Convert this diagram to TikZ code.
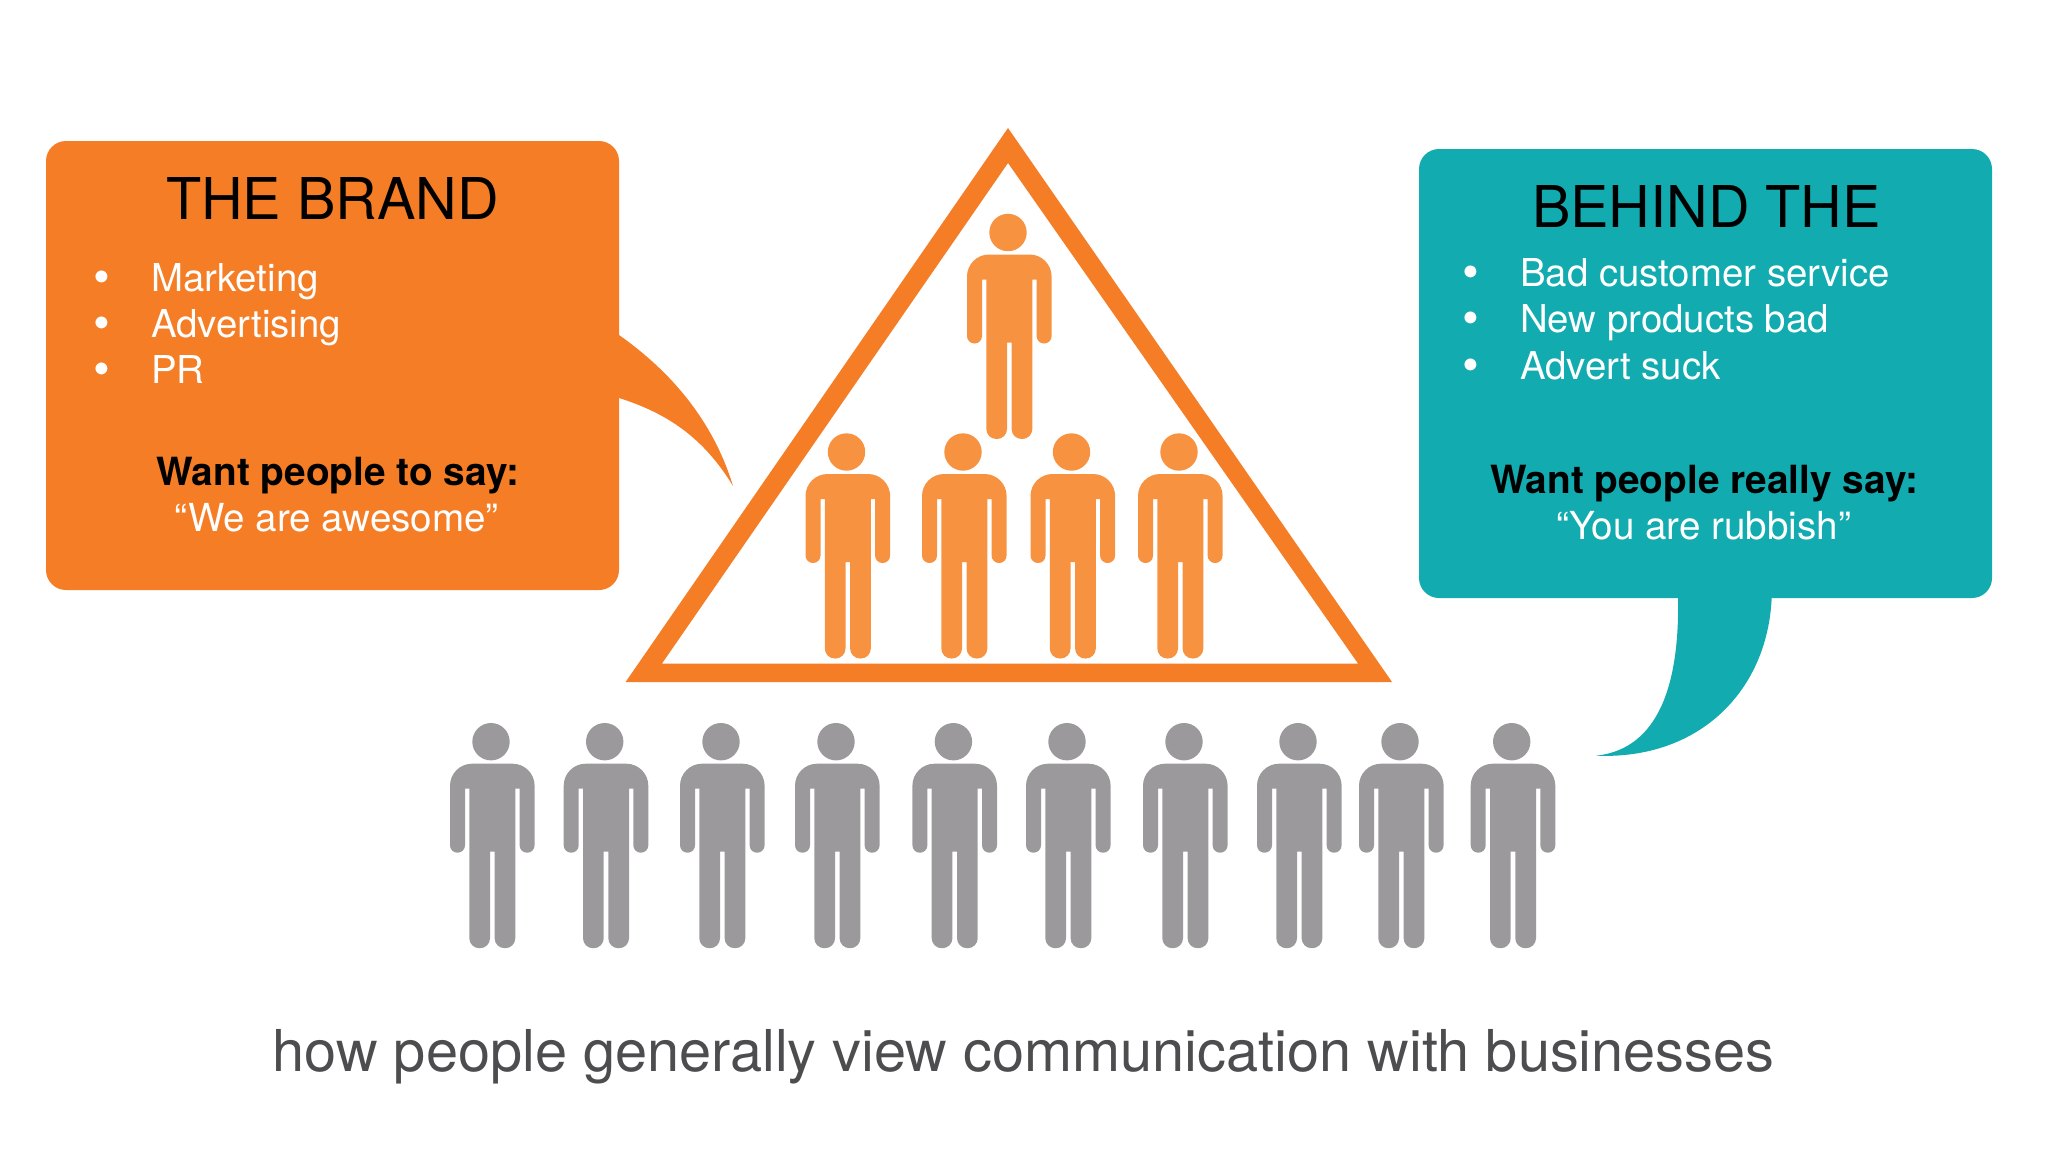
\documentclass[tikz,border=0pt]{standalone}
\usepackage{fontspec}
\setmainfont{TeX Gyre Heros}
\definecolor{brandorange}{RGB}{244,125,38}
\definecolor{crowdorange}{RGB}{247,146,64}
\definecolor{behindteal}{RGB}{17,171,176}
\definecolor{crowdgrey}{RGB}{155,153,156}
\definecolor{captiongrey}{RGB}{77,77,79}
\tikzset{
  person/.pic={
    \path[pic actions] (0,0) circle (18.7);
    \path[pic actions] (-1,110) [rounded corners=5pt] -- (-1,206.5) -- (-21.7,206.5) [sharp corners] -- (-21.7,47) -- (-26,47)
      [rounded corners=3.7pt] -- (-26,111) -- (-41,111) [rounded corners=11pt] -- (-41,22) -- (43.6,22)
      [rounded corners=3.7pt] -- (43.6,111) -- (28.6,111) [sharp corners] -- (28.6,47) -- (24.3,47)
      [rounded corners=5pt] -- (24.3,206.5) -- (3.6,206.5) [sharp corners] -- (3.6,110) -- cycle;
  },
  boxhead/.style={anchor=base,font=\fontsize{28.8}{34}\selectfont,text=black},
  boxitem/.style={anchor=base west,font=\fontsize{19.2}{23}\selectfont,text=white},
  boxbullet/.style={anchor=base,font=\fontsize{24}{28}\selectfont,text=white},
  boxwant/.style={anchor=base,font=\fontsize{19.4}{23}\selectfont\bfseries,text=black},
  boxquote/.style={anchor=base,font=\fontsize{19.3}{23}\selectfont,text=white}
}
\begin{document}
\begin{tikzpicture}[x=0.5pt,y=-0.5pt]
\useasboundingbox (0,0) rectangle (2048,1152);
% left speech box
\fill[brandorange,rounded corners=10pt] (46,141) rectangle (619,590);
\fill[brandorange] (610,330) -- (619,335) .. controls (680,378) and (716,430) .. (733,486) .. controls (705,440) and (670,414) .. (619,398) -- (610,398) -- cycle;
% right speech box
\fill[behindteal,rounded corners=10pt] (1419,149) rectangle (1992,598);
\fill[behindteal] (1678,590) -- (1771.7,590) -- (1771.7,597) .. controls (1768,690) and (1700,760) .. (1596,755.7) .. controls (1650,750) and (1680,700) .. (1678,597) -- cycle;
% triangle
\fill[brandorange,even odd rule] (1008,128) -- (1392,682) -- (625.6,682) -- cycle (1008,163) -- (662,663.5) -- (1358,663.5) -- cycle;
% people
\pic[fill=crowdorange] at (1008,232.5) {person};
\foreach \px in {846.5,963,1071.5,1179} \pic[fill=crowdorange] at (\px,452) {person};
\foreach \px in {491,604.7,721,836,953.4,1067,1184,1298,1400,1511.7} \pic[fill=crowdgrey] at (\px,741.7) {person};
% left texts
\node[boxhead] (brandhead) at (332.5,219.5) {THE BRAND};
\node[boxbullet] (brandbulleta) at (102,293) {•};
\node[boxbullet] (brandbulletb) at (102,339) {•};
\node[boxbullet] (brandbulletc) at (102,385) {•};
\node[boxitem] (branditema) at (144,291) {Marketing};
\node[boxitem] (branditemb) at (144,337) {Advertising};
\node[boxitem] (branditemc) at (144,383.5) {PR};
\node[boxwant] (brandwant) at (338,485) {Want people to say:};
\node[boxquote] (brandquote) at (336.5,531.5) {“We are awesome”};
% right texts
\node[boxhead] (behindhead) at (1706.5,227.5) {BEHIND THE};
\node[boxbullet] (behindbulleta) at (1471,288) {•};
\node[boxbullet] (behindbulletb) at (1471,334.5) {•};
\node[boxbullet] (behindbulletc) at (1471,381) {•};
\node[boxitem] (behinditema) at (1513,286) {Bad customer service};
\node[boxitem] (behinditemb) at (1513,332.5) {New products bad};
\node[boxitem] (behinditemc) at (1513,379) {Advert suck};
\node[boxwant] (behindwant) at (1704.5,493.5) {Want people really say:};
\node[boxquote] (behindquote) at (1703.5,539.5) {“You are rubbish”};
% caption
\node[anchor=base,font=\fontsize{28.85}{34}\selectfont,text=captiongrey] (caption) at (1023.6,1071) {how people generally view communication with businesses};
\end{tikzpicture}
\end{document}
